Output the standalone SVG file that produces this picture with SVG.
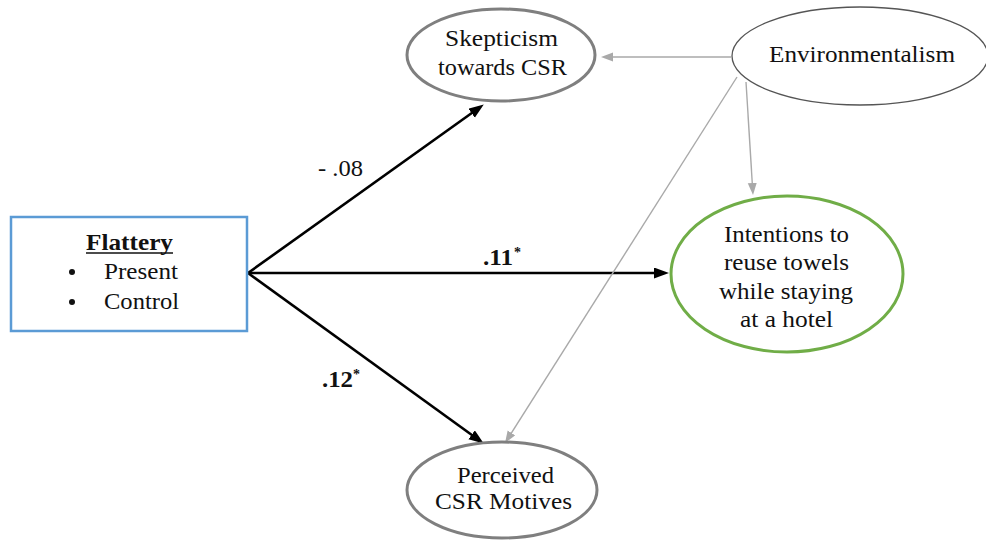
<svg xmlns="http://www.w3.org/2000/svg" width="986" height="542" viewBox="0 0 986 542">
<defs>
<style>
text{font-family:"Liberation Serif","Times New Roman",serif;font-size:24px;fill:#111}
.b{font-weight:bold}
.blk{stroke:#000;stroke-width:2.6;fill:none}
.gry{stroke:#a9a9a9;stroke-width:1.4;fill:none}
</style>
<marker id="ab" markerUnits="userSpaceOnUse" markerWidth="16" markerHeight="12" refX="8" refY="5.5" orient="auto"><path d="M0,0 L15,5.5 L0,11 z" fill="#000"/></marker>
<marker id="ag" markerUnits="userSpaceOnUse" markerWidth="14" markerHeight="10" refX="7" refY="4.5" orient="auto"><path d="M0,0 L12,4.5 L0,9 z" fill="#a9a9a9"/></marker>
</defs>
<rect width="986" height="542" fill="#fff"/>
<g id="connectors">
<line class="blk" x1="248" y1="273" x2="478.1" y2="108.5" marker-end="url(#ab)"/>
<line class="blk" x1="248" y1="273" x2="662" y2="273" marker-end="url(#ab)"/>
<line class="blk" x1="248" y1="273" x2="478.1" y2="439.5" marker-end="url(#ab)"/>
<line class="gry" x1="731" y1="57" x2="606" y2="57" marker-end="url(#ag)"/>
<line class="gry" x1="746" y1="82" x2="752.7" y2="190" marker-end="url(#ag)"/>
<line class="gry" x1="737" y1="77" x2="507.7" y2="438.8" marker-end="url(#ag)"/>
<text x="318" y="176" textLength="45" lengthAdjust="spacingAndGlyphs">- .08</text>
<text class="b" x="483" y="265" textLength="30" lengthAdjust="spacingAndGlyphs">.11</text>
<text class="b" x="514" y="257" style="font-size:14px">*</text>
<text class="b" x="322" y="387" textLength="31" lengthAdjust="spacingAndGlyphs">.12</text>
<text class="b" x="353" y="379" style="font-size:14px">*</text>
</g>
<g id="flattery">
<rect x="11" y="217" width="236" height="114" fill="#fff" stroke="#5b9bd5" stroke-width="2.5"/>
<text class="b" x="86" y="250" textLength="87" lengthAdjust="spacingAndGlyphs">Flattery</text>
<line x1="86" y1="253" x2="173" y2="253" stroke="#111" stroke-width="1.5"/>
<circle cx="72" cy="272" r="3" fill="#111"/>
<text x="104" y="279" textLength="74" lengthAdjust="spacingAndGlyphs">Present</text>
<circle cx="72" cy="302" r="3" fill="#111"/>
<text x="104" y="309" textLength="75" lengthAdjust="spacingAndGlyphs">Control</text>
</g>
<g id="skepticism">
<ellipse cx="501" cy="55" rx="94" ry="46" fill="#fff" stroke="#7f7f7f" stroke-width="3"/>
<text x="445" y="46" textLength="113" lengthAdjust="spacingAndGlyphs">Skepticism</text>
<text x="438" y="75" textLength="129" lengthAdjust="spacingAndGlyphs">towards CSR</text>
</g>
<g id="environmentalism">
<ellipse cx="860" cy="56" rx="128" ry="49" fill="#fff" stroke="#555" stroke-width="1.3"/>
<text x="769" y="62" textLength="186" lengthAdjust="spacingAndGlyphs">Environmentalism</text>
</g>
<g id="intentions">
<ellipse cx="787" cy="274" rx="116" ry="78" fill="#fff" stroke="#70ad47" stroke-width="3"/>
<text x="724" y="242" textLength="125" lengthAdjust="spacingAndGlyphs">Intentions to</text>
<text x="724" y="270" textLength="125" lengthAdjust="spacingAndGlyphs">reuse towels</text>
<text x="719" y="299" textLength="134" lengthAdjust="spacingAndGlyphs">while staying</text>
<text x="740" y="327" textLength="93" lengthAdjust="spacingAndGlyphs">at a hotel</text>
</g>
<g id="perceived">
<ellipse cx="502" cy="490" rx="95" ry="48" fill="#fff" stroke="#7f7f7f" stroke-width="3"/>
<text x="457" y="483" textLength="97" lengthAdjust="spacingAndGlyphs">Perceived</text>
<text x="435" y="509" textLength="137" lengthAdjust="spacingAndGlyphs">CSR Motives</text>
</g>
</svg>
